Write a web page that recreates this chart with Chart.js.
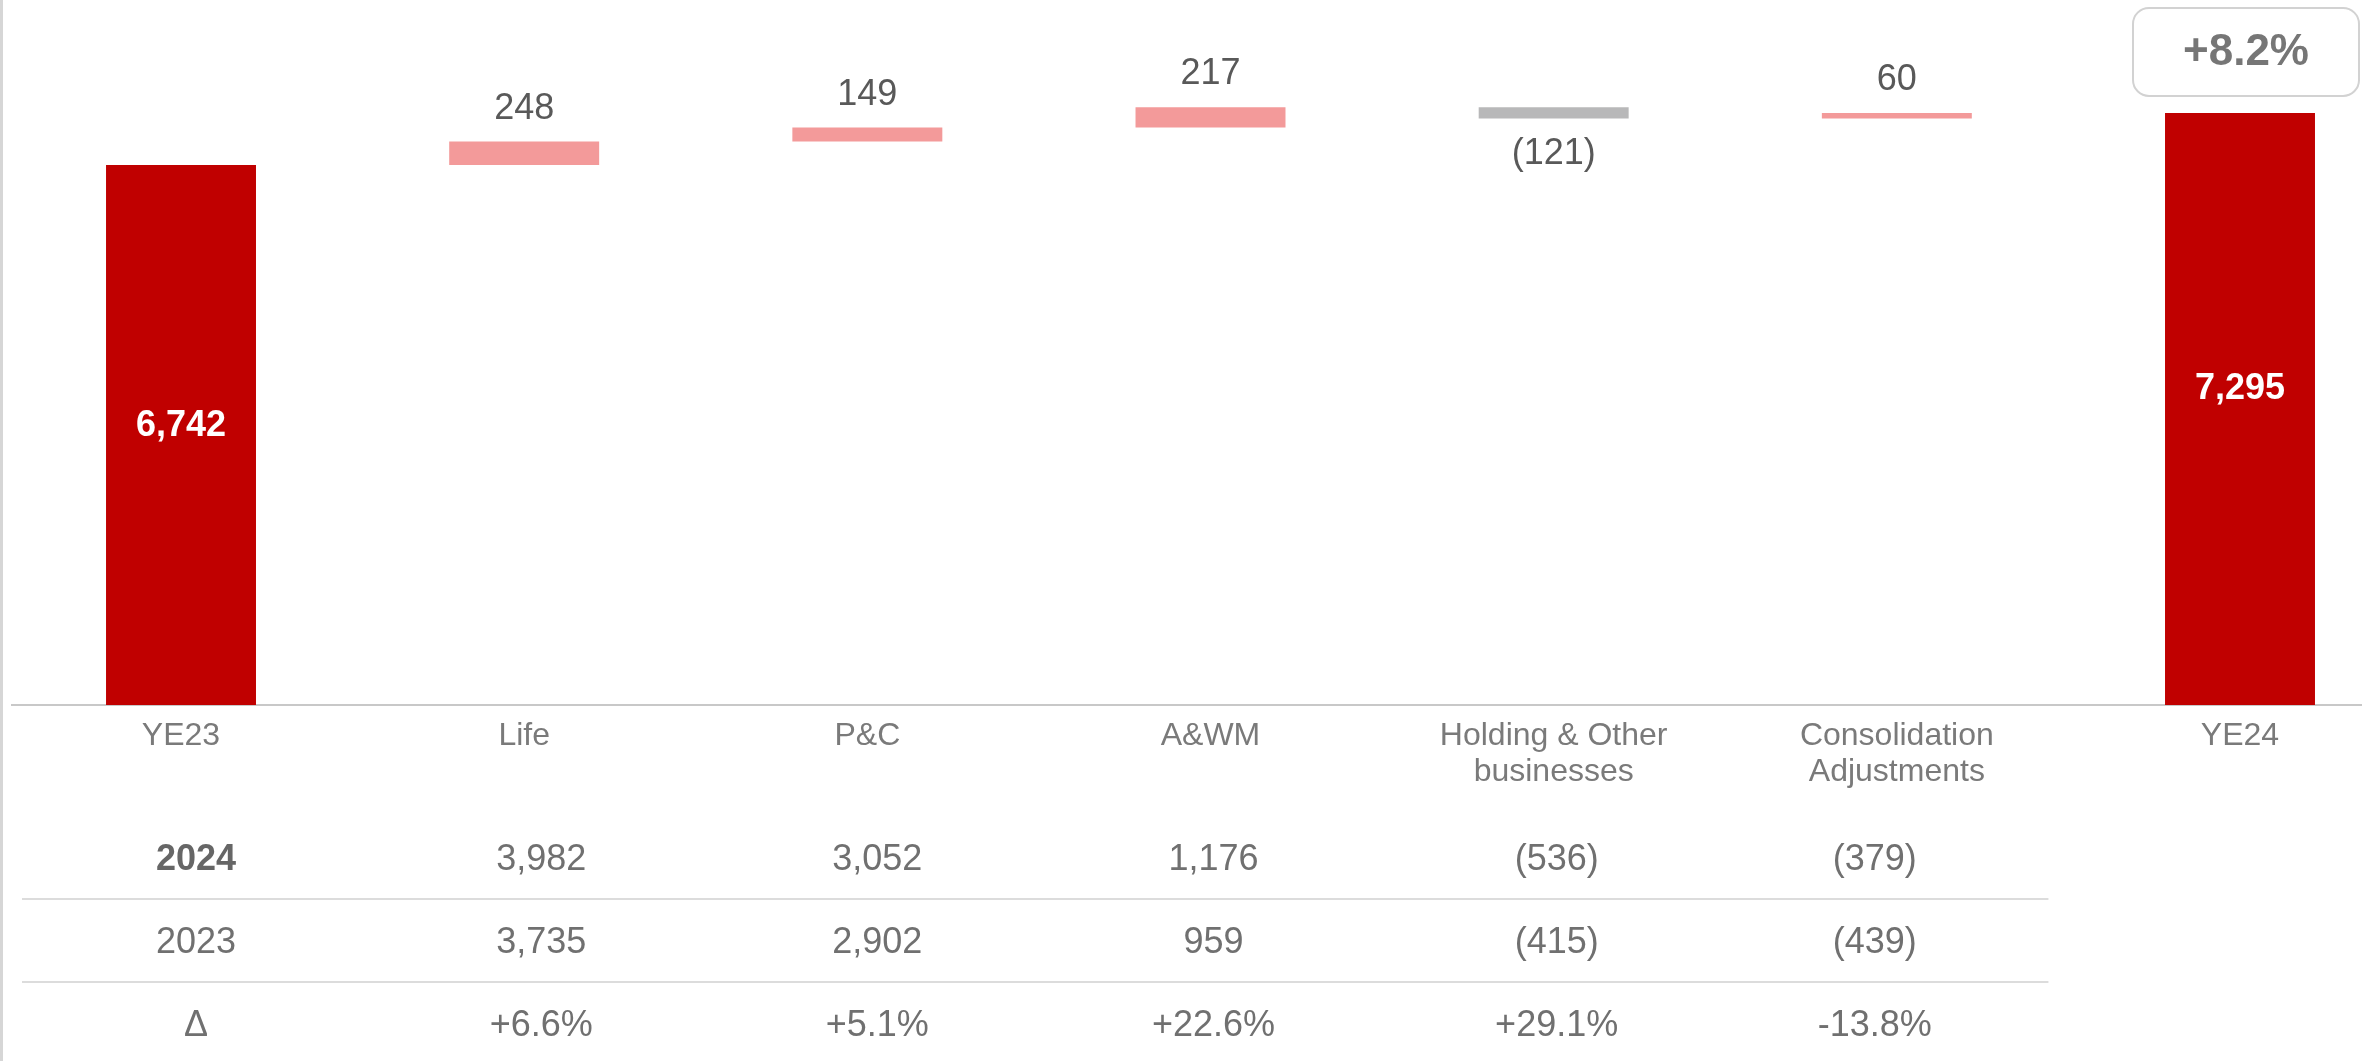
<!DOCTYPE html>
<html>
<head>
<meta charset="utf-8">
<script src="https://cdn.jsdelivr.net/npm/chart.js@4/dist/chart.umd.min.js"></script>
<style>
  html, body { margin: 0; padding: 0; background: #ffffff; overflow: hidden; }
  #wrap { position: relative; width: 2362px; height: 1061px; }
  canvas { display: block; }
</style>
</head>
<body>
<div id="wrap"><canvas id="c" width="2362" height="1061"></canvas></div>
<script>
// ---- data ----
const categories = ['YE23', 'Life', 'P&C', 'A&WM', ['Holding & Other', 'businesses'], ['Consolidation', 'Adjustments'], 'YE24'];
const startTotal = 6742;
const deltas = [248, 149, 217, -121, 60];
const endTotal = 7295;
const totalGrowthPct = 8.2;

const tableRowLabels = ['2024', '2023', 'Δ'];
const values2024 = [3982, 3052, 1176, -536, -379];
const values2023 = [3735, 2902, 959, -415, -439];
const changePct = [6.6, 5.1, 22.6, 29.1, -13.8];

// ---- styles / layout ----
const FONT = '"Liberation Sans", Arial, Helvetica, sans-serif';
const C_TOTAL = '#C00000';
const C_POS = '#F39A9A';
const C_NEG = '#B8B8B9';
const TABLE_COL_SHIFT = [15, 17, 10, 3, 3, -22];
const TOTAL_LABEL_SHIFT = [-9, -20];

// ---- build floating bars ----
const bars = [];
const colors = [];
bars.push({ x: 0, y: [1000, startTotal] });
colors.push(C_TOTAL);
let run = startTotal;
deltas.forEach((d, i) => {
  bars.push({ x: i + 1, y: [run, run + d] });
  colors.push(d >= 0 ? C_POS : C_NEG);
  run += d;
});
bars.push({ x: deltas.length + 1, y: [1000, endTotal] });
colors.push(C_TOTAL);

const fmtNum = v => {
  const s = Math.abs(v).toLocaleString('en-US');
  return v < 0 ? '(' + s + ')' : s;
};
const fmtPct = v => (v > 0 ? '+' : '') + v.toFixed(1) + '%';

const labelPlugin = {
  id: 'labels',
  afterDatasetsDraw(chart) {
    const ctx = chart.ctx;
    const meta = chart.getDatasetMeta(0);
    ctx.save();
    ctx.textAlign = 'center';
    ctx.textBaseline = 'middle';
    meta.data.forEach((bar, i) => {
      const top = Math.min(bar.y, bar.base);
      const bottom = Math.max(bar.y, bar.base);
      if (i === 0 || i === meta.data.length - 1) {
        const v = i === 0 ? startTotal : endTotal;
        const sh = TOTAL_LABEL_SHIFT[i === 0 ? 0 : 1];
        ctx.fillStyle = '#ffffff';
        ctx.font = 'bold 36px ' + FONT;
        ctx.fillText(fmtNum(v), bar.x, (top + bottom) / 2 + sh);
      } else {
        const d = deltas[i - 1];
        ctx.fillStyle = '#595959';
        ctx.font = '36px ' + FONT;
        if (d >= 0) ctx.fillText(fmtNum(d), bar.x, top - 33);
        else ctx.fillText(fmtNum(d), bar.x, bottom + 36);
      }
    });
    // growth box above the last bar
    const last = meta.data[meta.data.length - 1];
    const lt = Math.min(last.y, last.base);
    const bw = 226, bh = 88;
    const bx = last.x - bw / 2 + 6, by = lt - 17 - bh;
    ctx.beginPath();
    ctx.roundRect(bx, by, bw, bh, 16);
    ctx.fillStyle = '#ffffff';
    ctx.fill();
    ctx.lineWidth = 2;
    ctx.strokeStyle = '#d2d2d2';
    ctx.stroke();
    ctx.fillStyle = '#767676';
    ctx.font = 'bold 44px ' + FONT;
    ctx.fillText(fmtPct(totalGrowthPct), bx + bw / 2, by + bh / 2 + 1);
    ctx.restore();
  },
  afterDraw(chart) {
    const ctx = chart.ctx;
    const xs = chart.scales.x;
    const area = chart.chartArea;
    ctx.save();
    // page left border
    ctx.fillStyle = '#d6d6d6';
    ctx.fillRect(0, 0, 3, chart.height);
    // table
    const rowY = [area.bottom + 155, area.bottom + 238, area.bottom + 321];
    const sepY = [area.bottom + 194, area.bottom + 277];
    const sepL = area.left + 10;
    const sepR = (xs.getPixelForValue(5) + xs.getPixelForValue(6)) / 2 - 20;
    ctx.strokeStyle = '#dcdcdc';
    ctx.lineWidth = 2;
    sepY.forEach(y => {
      ctx.beginPath();
      ctx.moveTo(sepL, y);
      ctx.lineTo(sepR, y);
      ctx.stroke();
    });
    ctx.textAlign = 'center';
    ctx.textBaseline = 'middle';
    const rows = [values2024.map(fmtNum), values2023.map(fmtNum), changePct.map(fmtPct)];
    rows.forEach((row, r) => {
      ctx.fillStyle = r === 0 ? '#666666' : '#707070';
      ctx.font = (r === 0 ? 'bold ' : '') + '36px ' + FONT;
      ctx.fillText(tableRowLabels[r], xs.getPixelForValue(0) + TABLE_COL_SHIFT[0], rowY[r]);
      ctx.fillStyle = '#707070';
      ctx.font = '36px ' + FONT;
      row.forEach((t, c) => {
        ctx.fillText(t, xs.getPixelForValue(c + 1) + TABLE_COL_SHIFT[c + 1], rowY[r]);
      });
    });
    ctx.restore();
  }
};

new Chart(document.getElementById('c'), {
  type: 'bar',
  data: {
    datasets: [{
      data: bars,
      backgroundColor: colors,
      borderWidth: 0,
      barPercentage: 0.437,
      categoryPercentage: 1.0
    }]
  },
  options: {
    responsive: false,
    animation: false,
    events: [],
    layout: { padding: { left: 12, right: 0, top: 9, bottom: 0 } },
    plugins: { legend: { display: false }, tooltip: { enabled: false } },
    scales: {
      x: {
        type: 'linear',
        offset: false,
        min: -0.4925,
        max: 6.3555,
        grid: { display: false, drawTicks: false, offset: false },
        border: { display: true, color: '#c8c8c8', width: 2 },
        afterBuildTicks: s => { s.ticks = categories.map((_, i) => ({ value: i })); },
        afterFit: s => { s.height = 356; },
        ticks: {
          autoSkip: false,
          maxRotation: 0,
          padding: 13,
          color: '#7a7a7a',
          font: { family: FONT, size: 32, lineHeight: 1.13 },
          callback: v => categories[v]
        }
      },
      y: { display: false, min: 1000, max: 8400 }
    }
  },
  plugins: [labelPlugin]
});
</script>
</body>
</html>
